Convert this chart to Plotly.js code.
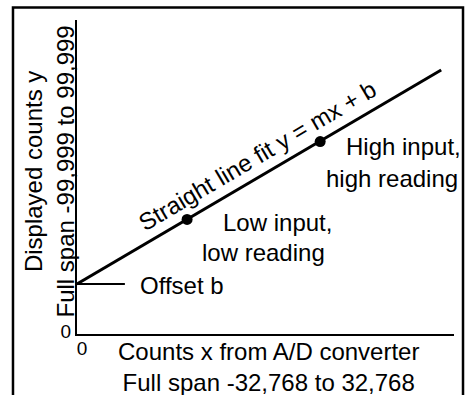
<!DOCTYPE html>
<html>
<head>
<meta charset="utf-8">
<script src="https://cdn.plot.ly/plotly-3.0.1.min.js"></script>
<style>
  html, body { margin: 0; padding: 0; background: #fff; }
  #chart { width: 467px; height: 395px; }
</style>
</head>
<body>
<div id="chart"></div>
<script>
// ---- data (arbitrary linear units, 0..100) ----
const fitLineX = [0, 96.6];
const fitLineY = [15.9, 84.1];
const offsetLineX = [0, 12.7];
const offsetLineY = [15.9, 15.9];
const pointX = [29.2, 64.5];
const pointY = [36.5, 61.3];
const xTickVals = [0];
const xTickText = ['0'];
const yTickVals = [0];
const yTickText = ['0'];
const fitLabel = 'Straight line fit y = mx + b';
const lowLabel = ['Low input,', 'low reading'];
const highLabel = ['High input,', 'high reading'];
const offsetLabel = 'Offset b';
const xTitleLines = ['Counts x from A/D converter', 'Full span -32,768 to 32,768'];
const yTitleLines = ['Displayed counts y', 'Full span -99,999 to 99,999'];

const FONT = '"Liberation Sans", Arial, Helvetica, sans-serif';
const FS = 24;

const traces = [
  { x: fitLineX, y: fitLineY, mode: 'lines', line: { color: '#000', width: 3 }, hoverinfo: 'skip' },
  { x: offsetLineX, y: offsetLineY, mode: 'lines', line: { color: '#000', width: 2 }, hoverinfo: 'skip' },
  { x: pointX, y: pointY, mode: 'markers', marker: { color: '#000', size: 11 }, hoverinfo: 'skip' }
];

function ann(text, x, y, opts) {
  return Object.assign({
    text: text, x: x, y: y, xref: 'x', yref: 'y', showarrow: false,
    font: { family: FONT, size: FS, color: '#000' },
    xanchor: 'left', yanchor: 'middle'
  }, opts || {});
}

const annotations = [
  ann(fitLabel, 47.9, 56.8, { xanchor: 'center', textangle: -30.5 }),
  ann(highLabel[0], 70.8, 59.6),
  ann(highLabel[1], 65.4, 49.4),
  ann(lowLabel[0], 38.3, 35.5),
  ann(lowLabel[1], 32.7, 26.1),
  ann(offsetLabel, 16.2, 15.6),
  {
    text: xTitleLines.join('<br>'), xref: 'paper', yref: 'paper',
    x: 0.508, y: -0.105, xanchor: 'center', yanchor: 'middle', showarrow: false,
    font: { family: FONT, size: FS, color: '#000' }
  },
  {
    text: yTitleLines.join('<br>'), xref: 'paper', yref: 'paper',
    x: -0.073, y: 0.519, xanchor: 'center', yanchor: 'middle', showarrow: false,
    textangle: -90,
    font: { family: FONT, size: FS, color: '#000' }
  }
];

const layout = {
  width: 467, height: 395,
  margin: { l: 77, r: 13, t: 20, b: 61 },
  paper_bgcolor: '#fff', plot_bgcolor: '#fff',
  showlegend: false,
  font: { family: FONT, size: FS, color: '#000' },
  xaxis: {
    range: [0, 100], showgrid: false, zeroline: false,
    showline: true, linecolor: '#000', linewidth: 2,
    tickvals: xTickVals, ticktext: xTickText, ticks: '',
    tickfont: { family: FONT, size: 19, color: '#000' },
    ticklabelshift: 5, ticklabelstandoff: -4, fixedrange: true
  },
  yaxis: {
    range: [0, 100], showgrid: false, zeroline: false,
    showline: true, linecolor: '#000', linewidth: 2,
    tickvals: yTickVals, ticktext: yTickText, ticks: '',
    tickfont: { family: FONT, size: 19, color: '#000' },
    ticklabelshift: -3, ticklabelstandoff: 0, fixedrange: true
  },
  shapes: [{
    type: 'rect', xref: 'paper', yref: 'paper',
    x0: -0.1698, x1: 1.0239, y0: -0.4, y1: 1.0398,
    line: { color: '#000', width: 2.5 }, fillcolor: 'rgba(0,0,0,0)'
  }],
  annotations: annotations
};

Plotly.newPlot('chart', traces, layout, { displayModeBar: false, staticPlot: true });
</script>
</body>
</html>
